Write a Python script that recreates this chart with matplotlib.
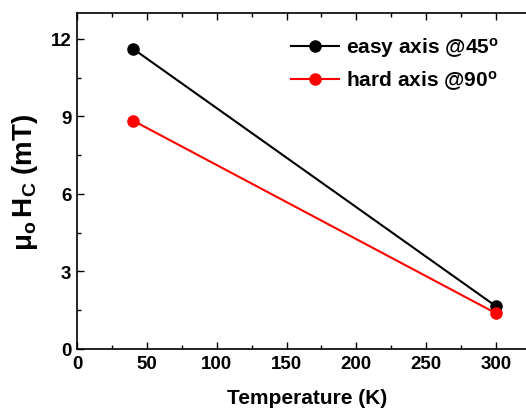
import matplotlib
matplotlib.use("Agg")
import matplotlib.pyplot as plt
from matplotlib.ticker import MultipleLocator

temperature = [40, 300]
easy_axis = [11.62, 1.65]
hard_axis = [8.84, 1.38]

plt.rcParams['font.family'] = ['Liberation Sans', 'DejaVu Sans']
plt.rcParams['font.weight'] = 'bold'
plt.rcParams['mathtext.fontset'] = 'custom'
plt.rcParams['mathtext.rm'] = 'Liberation Sans:bold'
plt.rcParams['mathtext.it'] = 'Liberation Sans:bold'
plt.rcParams['mathtext.bf'] = 'Liberation Sans:bold'
plt.rcParams['mathtext.default'] = 'regular'

fig = plt.figure(figsize=(5.26, 4.10), dpi=100)
ax = fig.add_axes([77/526, 1-350/410, 460/526, 336/410])

ax.plot(temperature, easy_axis, '-o', color='black', lw=1.5, ms=8, label='easy axis @45$^o$')
ax.plot(temperature, hard_axis, '-o', color='red', lw=1.5, ms=8, label='hard axis @90$^o$')

ax.set_xlim(0, 460/1.397)
ax.set_ylim(0, 13)
ax.xaxis.set_major_locator(MultipleLocator(50))
ax.xaxis.set_minor_locator(MultipleLocator(25))
ax.yaxis.set_major_locator(MultipleLocator(3))
ax.yaxis.set_minor_locator(MultipleLocator(1.5))
ax.tick_params(which='both', direction='in', top=True, right=False, width=1, labelsize=13.5, pad=4)
ax.tick_params(which='major', length=5)
ax.tick_params(which='minor', length=3)
ax.spines['right'].set_visible(False)
for lab in ax.get_xticklabels() + ax.get_yticklabels():
    lab.set_fontweight('bold')
for s in ax.spines.values():
    s.set_linewidth(1.2)

ax.set_xlabel('Temperature (K)', fontsize=15, fontweight='bold', labelpad=12)
ax.set_ylabel(r'$\mu_o\, H_C$ (mT)', fontsize=20, fontweight='bold', labelpad=8)

leg = ax.legend(loc='upper right', frameon=False, prop={'size': 15, 'weight': 'bold'},
                handlelength=2.3, handletextpad=0.3, labelspacing=0.45,
                bbox_to_anchor=(0.957, 0.99))

fig.savefig('out.png', dpi=100)
